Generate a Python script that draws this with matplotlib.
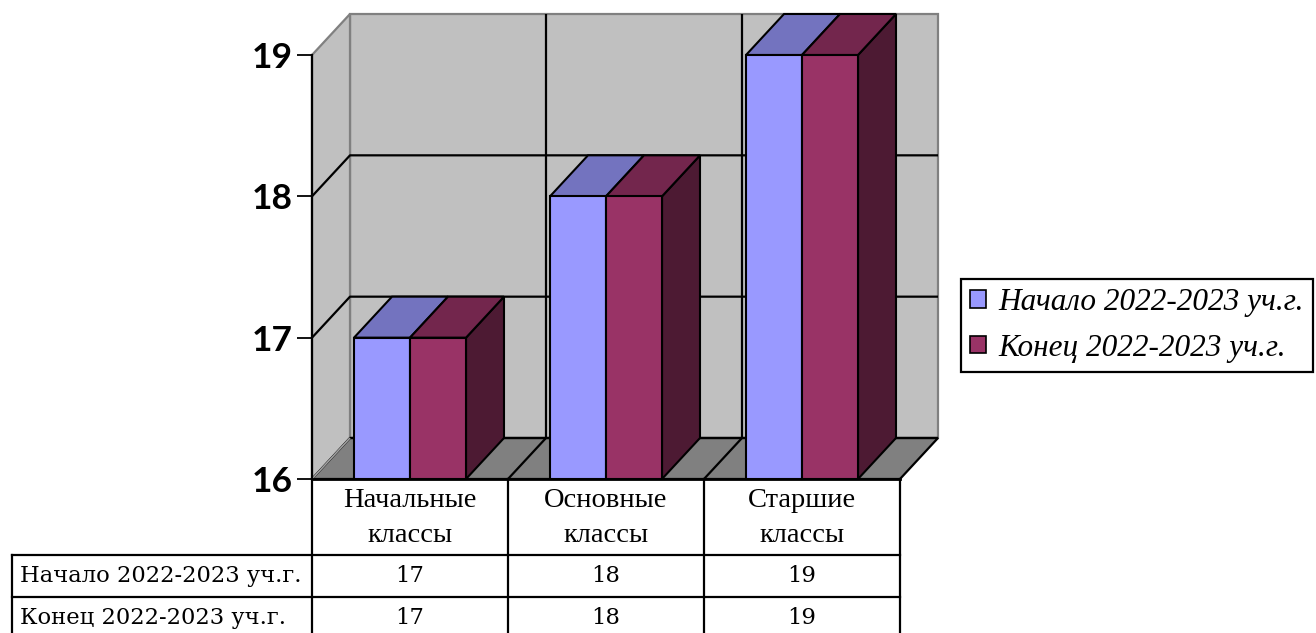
import matplotlib
matplotlib.use("Agg")
import matplotlib.pyplot as plt
from matplotlib.patches import Polygon, Patch
from matplotlib.lines import Line2D

# ---- data ----
categories = ["Начальные\nклассы", "Основные\nклассы", "Старшие\nклассы"]
series_names = ["Начало 2022-2023 уч.г.", "Конец 2022-2023 уч.г."]
start_values = [17, 18, 19]
end_values = [17, 18, 19]
y_ticks = [16, 17, 18, 19]

# ---- style ----
front_colors = ["#9999FF", "#993366"]
top_colors = ["#7373BF", "#73264D"]
side_colors = ["#4D4D80", "#4D1A33"]
wall_color = "#C0C0C0"
floor_color = "#808080"
edge_gray = "#808080"

W, H = 1316, 633
fig = plt.figure(figsize=(W / 100, H / 100), dpi=100)

ax = fig.add_axes([312 / W, 1 - 479 / H, 588 / W, 424 / H])
ymin, ymax = y_ticks[0], y_ticks[-1]
ncat = len(categories)
ax.set_xlim(0, ncat)
ax.set_ylim(ymin, ymax)

px_x = 588 / ncat
px_y = 424 / (ymax - ymin)
DX = 38 / px_x
DY = 41 / px_y


def poly(pts, fc, ec, lw, z):
    p = Polygon(pts, closed=True, facecolor=fc, edgecolor=ec, linewidth=lw,
                zorder=z, clip_on=False, joinstyle="miter")
    ax.add_patch(p)


def line(xs, ys, c, lw, z):
    ax.add_line(Line2D(xs, ys, color=c, linewidth=lw, zorder=z, clip_on=False,
                       solid_capstyle="butt"))


# walls
poly([(DX, ymin + DY), (ncat + DX, ymin + DY), (ncat + DX, ymax + DY), (DX, ymax + DY)],
     wall_color, edge_gray, 1.6, 1)
poly([(0, ymin), (DX, ymin + DY), (DX, ymax + DY), (0, ymax)],
     wall_color, edge_gray, 1.6, 1)
# floor
poly([(0, ymin), (ncat, ymin), (ncat + DX, ymin + DY), (DX, ymin + DY)],
     floor_color, "black", 1.6, 2)
line([0, DX], [ymin, ymin + DY], "#A0A0A0", 1.2, 2.5)

# gridlines (value)
for v in y_ticks[1:-1]:
    line([0, DX, ncat + DX], [v, v + DY, v + DY], "black", 1.6, 2)
line([DX, ncat + DX], [ymin + DY, ymin + DY], "black", 1.6, 2)
# gridlines (category)
for k in range(1, ncat):
    line([k, k + DX, k + DX], [ymin, ymin + DY, ymax + DY], "black", 1.6, 2)

# bars
w = 1 / 3.5
gap_left = 0.75 * w
all_values = [start_values, end_values]
for i in range(ncat):
    for s, vals in enumerate(all_values):
        x0 = i + gap_left + s * w
        x1 = x0 + w
        v = vals[i]
        z = 5 + i * 3 + s
        poly([(x1, ymin), (x1 + DX, ymin + DY), (x1 + DX, v + DY), (x1, v)],
             side_colors[s], "black", 1.5, z)
        poly([(x0, v), (x1, v), (x1 + DX, v + DY), (x0 + DX, v + DY)],
             top_colors[s], "black", 1.5, z)
        poly([(x0, ymin), (x1, ymin), (x1, v), (x0, v)],
             front_colors[s], "black", 1.5, z)

# axis
ax.set_xticks([])
ax.set_yticks(y_ticks)
ax.set_yticklabels([str(t) for t in y_ticks], fontfamily="Lato", fontweight="bold",
                   fontsize=25.5)
ax.tick_params(axis="y", direction="out", length=11, width=1.3, pad=3, color="black")
for sp in ["top", "right"]:
    ax.spines[sp].set_visible(False)
ax.spines["left"].set_linewidth(1.6)
ax.spines["bottom"].set_linewidth(2)
ax.spines["left"].set_zorder(20)
ax.spines["bottom"].set_zorder(20)
ax.patch.set_visible(False)

# ---- data table ----
axt = fig.add_axes([312 / W, 0, 588 / W, 154 / H])
axt.set_xlim(0, ncat)
axt.set_ylim(154, 0)
axt.axis("off")
head_h = 76
row_h = 42
label_left = -300 / px_x
tb = head_h + row_h * len(series_names) + 2


def tline(xs, ys):
    axt.add_line(Line2D(xs, ys, color="black", linewidth=1.6, clip_on=False))


for k in range(ncat + 1):
    tline([k, k], [0, tb])
tline([label_left, label_left], [head_h, tb])
for r in range(len(series_names) + 1):
    yy = head_h + r * row_h
    tline([label_left, ncat], [yy, yy])

serif = "Liberation Serif"
for i, c in enumerate(categories):
    axt.text(i + 0.5, head_h / 2 + 1, c, ha="center", va="center", fontsize=20.5,
             fontfamily=serif, linespacing=1.5, clip_on=False)
for r, (name, vals) in enumerate(zip(series_names, all_values)):
    yc = head_h + r * row_h + row_h / 2
    axt.text(label_left + 8 / px_x, yc, name, ha="left", va="center", fontsize=16.3,
             fontfamily="DejaVu Serif", clip_on=False)
    for i, v in enumerate(vals):
        axt.text(i + 0.5, yc, str(v), ha="center", va="center", fontsize=16.3,
                 fontfamily="DejaVu Serif", clip_on=False)

# ---- legend ----
handles = [Patch(facecolor=front_colors[s], edgecolor="black", linewidth=1.2)
           for s in range(len(series_names))]
leg = fig.legend(handles, series_names, loc="upper left",
                 bbox_to_anchor=(961 / W, 1 - 279 / H),
                 prop={"family": serif, "style": "italic", "size": 22.5},
                 frameon=True, fancybox=False, edgecolor="black", framealpha=1,
                 handlelength=0.5, handleheight=0.5, handletextpad=0.4,
                 labelspacing=0.52, borderpad=0.3, borderaxespad=0)
leg.get_frame().set_linewidth(1.6)

fig.savefig("out.png", dpi=100)
